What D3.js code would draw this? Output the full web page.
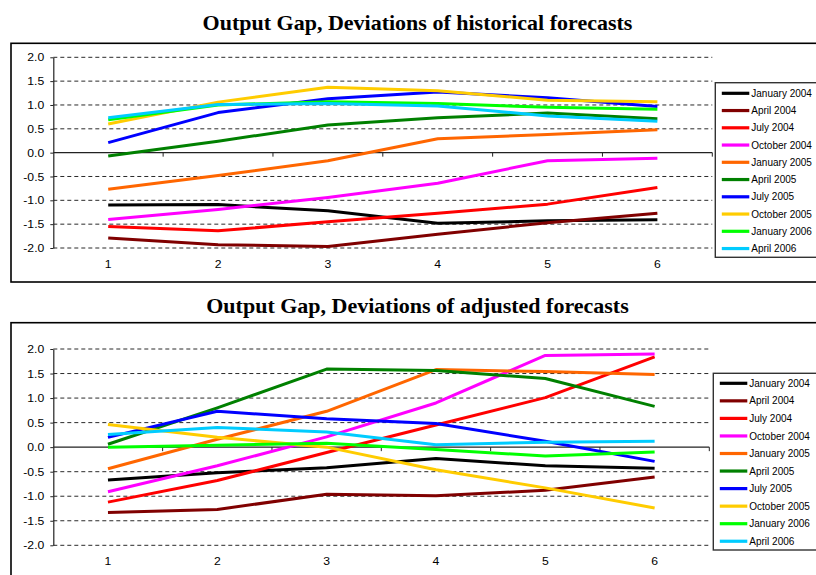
<!DOCTYPE html>
<html>
<head>
<meta charset="utf-8">
<script src="https://cdn.jsdelivr.net/npm/d3@7"></script>
<style>
  html, body { margin: 0; padding: 0; background: #fff; }
  svg { display: block; }
</style>
</head>
<body>
<svg id="chart" width="816" height="575"></svg>
<script>
// Forecast horizon (quarters ahead) shown along the x axis
const horizons = [1, 2, 3, 4, 5, 6];

// Forecast vintages, one line each
const vintages = ["January 2004", "April 2004", "July 2004", "October 2004", "January 2005",
                  "April 2005", "July 2005", "October 2005", "January 2006", "April 2006"];

const vintageColors = ["#000000", "#800000", "#ff0000", "#ff00ff", "#ff6600",
                       "#008000", "#0000ff", "#ffcc00", "#00ff00", "#00ccff"];

const yTicks = [-2.0, -1.5, -1.0, -0.5, 0.0, 0.5, 1.0, 1.5, 2.0];

// Deviations of historical forecasts, by vintage, horizons 1..6
const historical = [
  [-1.10, -1.09, -1.22, -1.48, -1.43, -1.41],  // January 2004
  [-1.79, -1.93, -1.97, -1.71, -1.47, -1.27],  // April 2004
  [-1.55, -1.64, -1.45, -1.27, -1.08, -0.73],  // July 2004
  [-1.40, -1.19, -0.94, -0.64, -0.17, -0.12],  // October 2004
  [-0.77, -0.48, -0.17,  0.29,  0.38,  0.48],  // January 2005
  [-0.07,  0.24,  0.58,  0.73,  0.83,  0.71],  // April 2005
  [ 0.21,  0.84,  1.13,  1.27,  1.15,  0.97],  // July 2005
  [ 0.60,  1.06,  1.37,  1.30,  1.10,  1.07],  // October 2005
  [ 0.69,  1.00,  1.07,  1.03,  0.95,  0.91],  // January 2006
  [ 0.73,  1.01,  1.03,  0.98,  0.77,  0.66]   // April 2006
];

// Deviations of adjusted forecasts, by vintage, horizons 1..6
const adjusted = [
  [-0.67, -0.52, -0.42, -0.23, -0.38, -0.43],  // January 2004
  [-1.33, -1.27, -0.96, -0.99, -0.88, -0.61],  // April 2004
  [-1.12, -0.68, -0.11,  0.45,  1.01,  1.84],  // July 2004
  [-0.91, -0.38,  0.21,  0.90,  1.87,  1.90],  // October 2004
  [-0.44,  0.16,  0.73,  1.58,  1.54,  1.48],  // January 2005
  [ 0.06,  0.80,  1.59,  1.56,  1.40,  0.83],  // April 2005
  [ 0.20,  0.73,  0.58,  0.48,  0.12, -0.29],  // July 2005
  [ 0.46,  0.20,  0.00, -0.46, -0.83, -1.24],  // October 2005
  [ 0.00,  0.04,  0.08, -0.05, -0.18, -0.10],  // January 2006
  [ 0.26,  0.40,  0.31,  0.05,  0.10,  0.12]   // April 2006
];

const svg = d3.select("#chart");

function drawPanel(opts) {
  const { title, titleY, frameTop, frameBottom, yTop, yBottom, labelY, legendTop, legendBottom, legendX, legendRowY, legendStep, data, plotRight } = opts;
  const plotLeft = 53.3;

  // panel frame
  svg.append("rect")
    .attr("x", 11).attr("y", frameTop)
    .attr("width", 900).attr("height", frameBottom - frameTop)
    .attr("fill", "none").attr("stroke", "#000").attr("stroke-width", 1.6);

  svg.append("text")
    .attr("x", 417.5).attr("y", titleY)
    .attr("text-anchor", "middle")
    .attr("font-family", "'Liberation Serif', 'Times New Roman', serif")
    .attr("font-weight", "bold").attr("font-size", 22)
    .text(title);

  const x = d3.scaleBand().domain(horizons).range([plotLeft, plotRight]).padding(0);
  const y = d3.scaleLinear().domain([-2, 2]).range([yBottom, yTop]);
  const cx = d => x(d) + x.bandwidth() / 2;

  const g = svg.append("g");

  // dashed gridlines
  g.selectAll("line.grid")
    .data(yTicks.filter(t => t !== 0))
    .join("line")
    .attr("class", "grid")
    .attr("x1", plotLeft).attr("x2", plotRight)
    .attr("y1", d => y(d)).attr("y2", d => y(d))
    .attr("stroke", "#2a2a2a").attr("stroke-width", 1)
    .attr("stroke-dasharray", "4,3");

  // y axis
  const yAxis = g.append("g")
    .attr("transform", `translate(${plotLeft},0)`)
    .call(d3.axisLeft(y).tickValues(yTicks).tickSize(3).tickSizeOuter(0)
      .tickFormat(d => d.toFixed(1)));
  yAxis.select(".domain").attr("stroke", "#222").attr("stroke-width", 1.2);
  yAxis.selectAll(".tick line").attr("stroke", "#222");
  yAxis.selectAll(".tick text")
    .attr("x", 0).attr("dy", "0.36em")
    .attr("transform", "translate(-9,0) scale(1.22,1)")
    .attr("font-family", "'Liberation Sans', Arial, sans-serif")
    .attr("font-size", 10).attr("fill", "#000");

  // zero line with category separator ticks
  const boundaries = horizons.map(h => x(h) + x.bandwidth());
  const xZero = g.append("g").attr("transform", `translate(0,${y(0)})`);
  xZero.append("line")
    .attr("x1", plotLeft).attr("x2", plotRight)
    .attr("stroke", "#222").attr("stroke-width", 1.2);
  xZero.selectAll("line.sep")
    .data(boundaries)
    .join("line")
    .attr("class", "sep")
    .attr("x1", d => d).attr("x2", d => d)
    .attr("y1", 0).attr("y2", 4)
    .attr("stroke", "#222").attr("stroke-width", 1);

  // horizon labels below the plot
  const xLabels = g.append("g")
    .attr("transform", `translate(0,${labelY})`)
    .call(d3.axisBottom(x).tickSize(0).tickPadding(0));
  xLabels.select(".domain").remove();
  xLabels.selectAll(".tick text")
    .attr("y", 0).attr("dy", "0.36em")
    .attr("transform", "scale(1.22,1)")
    .attr("font-family", "'Liberation Sans', Arial, sans-serif")
    .attr("font-size", 10).attr("fill", "#000");

  // one line per vintage
  const line = d3.line().x((d, i) => cx(horizons[i])).y(d => y(d));
  g.selectAll("path.series")
    .data(data)
    .join("path")
    .attr("class", "series")
    .attr("d", line)
    .attr("fill", "none")
    .attr("stroke", (d, i) => vintageColors[i])
    .attr("stroke-width", 3)
    .attr("stroke-linejoin", "round");

  // legend
  const lg = svg.append("g");
  lg.append("rect")
    .attr("x", legendX).attr("y", legendTop)
    .attr("width", 200).attr("height", legendBottom - legendTop)
    .attr("fill", "#fff").attr("stroke", "#333").attr("stroke-width", 1.4);
  const rows = lg.selectAll("g.row")
    .data(vintages)
    .join("g")
    .attr("class", "row")
    .attr("transform", (d, i) => `translate(${legendX},${legendRowY + i * legendStep})`);
  rows.append("line")
    .attr("x1", 6.5).attr("x2", 34)
    .attr("stroke", (d, i) => vintageColors[i])
    .attr("stroke-width", 3.2);
  rows.append("text")
    .attr("x", 36).attr("dy", "0.36em")
    .attr("font-family", "'Liberation Sans', Arial, sans-serif")
    .attr("font-size", 10).attr("fill", "#000")
    .text(d => d);
}

drawPanel({
  title: "Output Gap, Deviations of historical forecasts",
  titleY: 29.5,
  frameTop: 43.3, frameBottom: 282,
  yTop: 57.3, yBottom: 248,
  labelY: 264,
  plotRight: 712.3,
  legendX: 715.3, legendTop: 82.7, legendBottom: 257.3,
  legendRowY: 93.3, legendStep: 17.25,
  data: historical
});

drawPanel({
  title: "Output Gap, Deviations of adjusted forecasts",
  titleY: 312.5,
  frameTop: 322.7, frameBottom: 700,
  yTop: 349, yBottom: 545.3,
  labelY: 561.7,
  plotRight: 709.3,
  legendX: 713.3, legendTop: 373.3, legendBottom: 550,
  legendRowY: 383.3, legendStep: 17.55,
  data: adjusted
});
</script>
</body>
</html>
